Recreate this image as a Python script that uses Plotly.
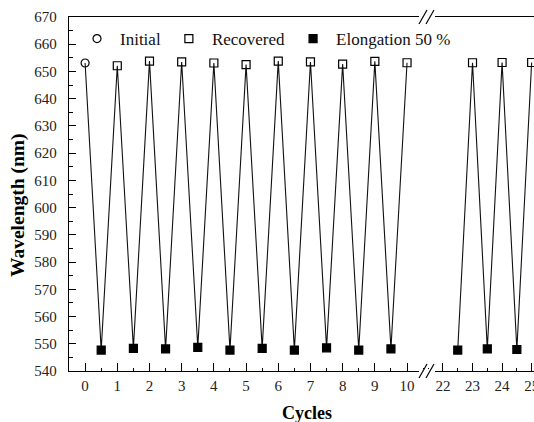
import plotly.graph_objects as go

# ---- data ----
initial_x = [0]
initial_y = [653.1]
recovered_x = [1, 2, 3, 4, 5, 6, 7, 8, 9, 10, 23, 24, 25]
recovered_y = [652.1, 653.8, 653.5, 653.1, 652.5, 653.8, 653.5, 652.7, 653.7, 653.2, 653.2, 653.3, 653.3]
elong_x = [0.5, 1.5, 2.5, 3.5, 4.5, 5.5, 6.5, 7.5, 8.5, 9.5, 22.5, 23.5, 24.5]
elong_y = [547.7, 548.3, 548.1, 548.7, 547.7, 548.3, 547.7, 548.5, 547.7, 548.1, 547.7, 548.1, 547.9]
break_at = 15  # cycles above this belong to the right-hand segment
x_range_left = [-0.5, 10.62]
x_range_right = [21.46, 25.08]
y_range = [540, 670]

FONT = "Liberation Serif, Times New Roman, serif"
W, H = 534, 422
L, R, T, B = 69, 0, 17, 51
pw, ph = W - L - R, H - T - B
split = (427 - L) / pw

def px(x): return (x - L) / pw
def py(y): return (H - B - y) / ph

all_pts = sorted(list(zip(initial_x, initial_y)) + list(zip(recovered_x, recovered_y)) + list(zip(elong_x, elong_y)))

fig = go.Figure()

def part(xs, ys, right):
    pts = [(x, y) for x, y in zip(xs, ys) if (x > break_at) == right]
    return [p[0] for p in pts], [p[1] for p in pts]

for right, xa in [(False, "x"), (True, "x2")]:
    lx, ly = part([p[0] for p in all_pts], [p[1] for p in all_pts], right)
    fig.add_trace(go.Scatter(x=lx, y=ly, xaxis=xa, yaxis="y", mode="lines",
                             line=dict(color="#111", width=1.1), showlegend=False,
                             hoverinfo="skip", cliponaxis=False))

series = [
    ("Initial", initial_x, initial_y, "circle-open"),
    ("Recovered", recovered_x, recovered_y, "square-open"),
    ("Elongation 50 %", elong_x, elong_y, "square"),
]
for name, xs, ys, sym in series:
    for right, xa in [(False, "x"), (True, "x2")]:
        px_, py_ = part(xs, ys, right)
        if not px_:
            continue
        fig.add_trace(go.Scatter(
            x=px_, y=py_, xaxis=xa, yaxis="y", mode="markers", name=name,
            legendgroup=name, showlegend=not right,
            marker=dict(symbol=sym, size=8, color="black",
                        line=dict(color="black", width=1.2)),
            cliponaxis=False))

tickfont = dict(family=FONT, size=15, color="#222")
common_x = dict(showline=True, linecolor="black", linewidth=1.3, mirror=True,
                ticks="inside", ticklen=8, tickwidth=1.2, tickcolor="black",
                dtick=1, tick0=0, showgrid=False, zeroline=False, automargin=False,
                tickfont=tickfont, ticklabelstandoff=1, ticklabeloverflow="allow",
                minor=dict(ticks="inside", ticklen=3, dtick=0.5, tick0=0,
                           tickcolor="black", tickwidth=1.2, showgrid=False))

fig.update_layout(
    width=W, height=H, margin=dict(l=L, r=R, t=T, b=B, autoexpand=False),
    paper_bgcolor="white", plot_bgcolor="white",
    font=dict(family=FONT, color="black"),
    xaxis=dict(domain=[0, split], range=x_range_left, anchor="y", **common_x),
    xaxis2=dict(domain=[split, 1], range=x_range_right, anchor="y", **common_x),
    yaxis=dict(range=y_range, showline=True, linecolor="black", linewidth=1.3,
               ticks="inside", ticklen=7, tickwidth=1.2, tickcolor="black",
               dtick=10, tick0=540, showgrid=False, zeroline=False, automargin=False,
               tickfont=tickfont, ticklabelstandoff=8,
               minor=dict(ticks="inside", ticklen=4, dtick=5, tick0=540,
                          tickcolor="black", tickwidth=1.2, showgrid=False)),
    showlegend=True,
    legend=dict(orientation="h", x=px(74), y=py(33 - 12), itemwidth=36,
                xanchor="left", yanchor="top", bgcolor="rgba(0,0,0,0)",
                font=dict(family=FONT, size=17, color="#111"), tracegroupgap=0),
    annotations=[
        dict(text="<b>Cycles</b>", x=px(307), y=py(413), xref="paper", yref="paper",
             showarrow=False, font=dict(family=FONT, size=18),
             xanchor="center", yanchor="middle"),
        dict(text="<b>Wavelength (nm)</b>", x=px(18), y=py(205), xref="paper", yref="paper",
             showarrow=False, textangle=-90, font=dict(family=FONT, size=19.5),
             xanchor="center", yanchor="middle"),
    ],
)

# axis break marks
shapes = []
for yb in (17, 371):
    shapes.append(dict(type="rect", xref="paper", yref="paper", x0=px(419), x1=px(435),
                       y0=py(yb + 2), y1=py(yb - 2), fillcolor="white", line=dict(width=0), layer="above"))
    for x0 in (419, 426):
        shapes.append(dict(type="line", xref="paper", yref="paper", x0=px(x0), x1=px(x0 + 8),
                           y0=py(yb + 7), y1=py(yb - 7), line=dict(color="black", width=1.2), layer="above"))
fig.update_layout(shapes=shapes)

fig.write_html("out.html")
